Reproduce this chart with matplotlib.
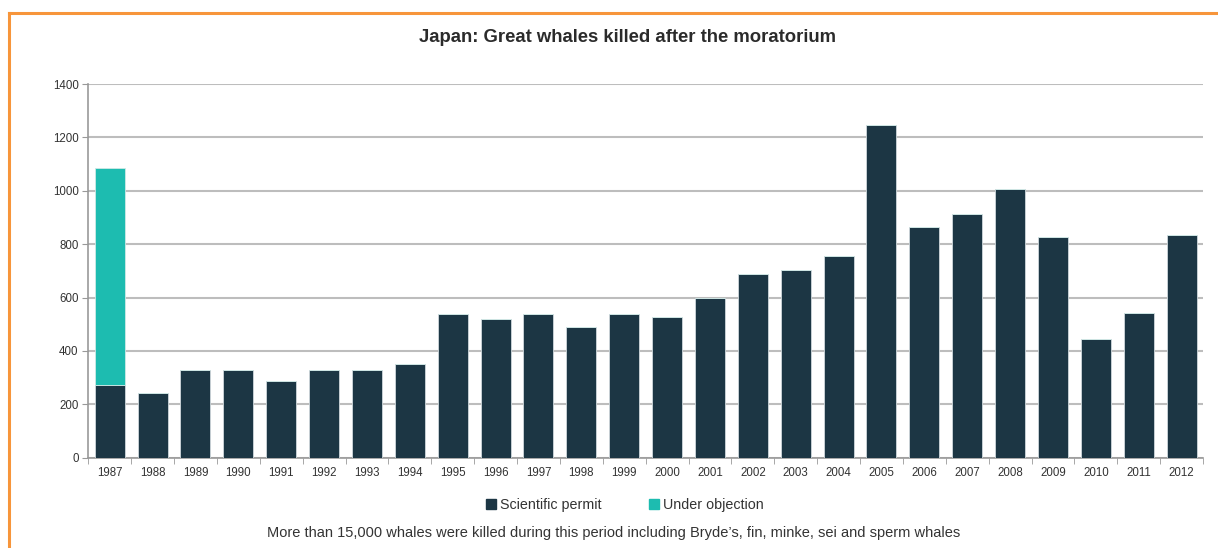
import matplotlib
matplotlib.use("Agg")
import matplotlib.pyplot as plt
from matplotlib.patches import Patch
from matplotlib.lines import Line2D
import numpy as np

years = [str(y) for y in range(1987, 2013)]
scientific = [273, 242, 330, 327, 288, 330, 330, 352, 540, 518, 540, 490, 540,
              528, 600, 688, 703, 755, 1245, 865, 913, 1006, 827, 445, 541, 836]
objection = [813] + [0] * 25

DARK = "#1c3644"
TEAL = "#1dbcb0"
FONT = ["Liberation Sans Narrow", "Liberation Sans", "DejaVu Sans"]
plt.rcParams["font.family"] = FONT

fig = plt.figure(figsize=(12.18, 5.48), dpi=100)
ax = fig.add_axes([0.0725, 0.1648, 0.9152, 0.6819])

x = np.arange(len(years))
ax.bar(x, scientific, width=0.7, color=DARK, edgecolor="#cfd8dc",
       linewidth=0.6, zorder=3)
ax.bar(x, objection, width=0.7, bottom=scientific, color=TEAL,
       edgecolor="#cfe9e6", linewidth=0.6, zorder=3)

ax.set_xlim(-0.5, len(years) - 0.5)
ax.set_ylim(0, 1400)
ax.set_yticks(range(0, 1401, 200))
ax.yaxis.grid(True, color="#bdbdbd", linewidth=1.5, zorder=0)
ax.set_xticks(x)
ax.set_xticklabels(years)
ax.set_xticks(np.arange(-0.5, len(years), 1), minor=True)
ax.tick_params(axis="x", which="major", length=0, pad=7, labelsize=8.3,
               labelcolor="#333333")
ax.tick_params(axis="x", which="minor", length=4, color="#999999")
ax.tick_params(axis="y", length=4, color="#999999", labelsize=8.3,
               labelcolor="#333333", pad=3)
for s in ["top", "right"]:
    ax.spines[s].set_visible(False)
for s in ["left", "bottom"]:
    ax.spines[s].set_color("#999999")
    ax.spines[s].set_linewidth(1.2)

fig.text(0.515, 0.932, "Japan: Great whales killed after the moratorium",
         ha="center", va="center", fontsize=13.3, fontweight="bold",
         color="#2b2b2b")

handles = [Patch(facecolor=DARK, edgecolor=DARK, label="Scientific permit"),
           Patch(facecolor=TEAL, edgecolor=TEAL, label="Under objection")]
fig.legend(handles=handles, loc="center", bbox_to_anchor=(0.513, 0.079),
           ncol=2, frameon=False, fontsize=10.3, handlelength=0.7,
           handleheight=0.7, handletextpad=0.3, columnspacing=3.3,
           labelcolor="#333333")

fig.text(0.504, 0.027,
         "More than 15,000 whales were killed during this period including "
         "Bryde\u2019s, fin, minke, sei and sperm whales",
         ha="center", va="center", fontsize=10.5, color="#333333")

# orange frame
fig.add_artist(Line2D([9 / 1218, 1], [1 - 13 / 548] * 2, color="#f7953b",
                      linewidth=2.2, transform=fig.transFigure))
fig.add_artist(Line2D([9 / 1218] * 2, [0, 1 - 13 / 548], color="#f7953b",
                      linewidth=2.2, transform=fig.transFigure))

fig.savefig("out.png", dpi=100)
